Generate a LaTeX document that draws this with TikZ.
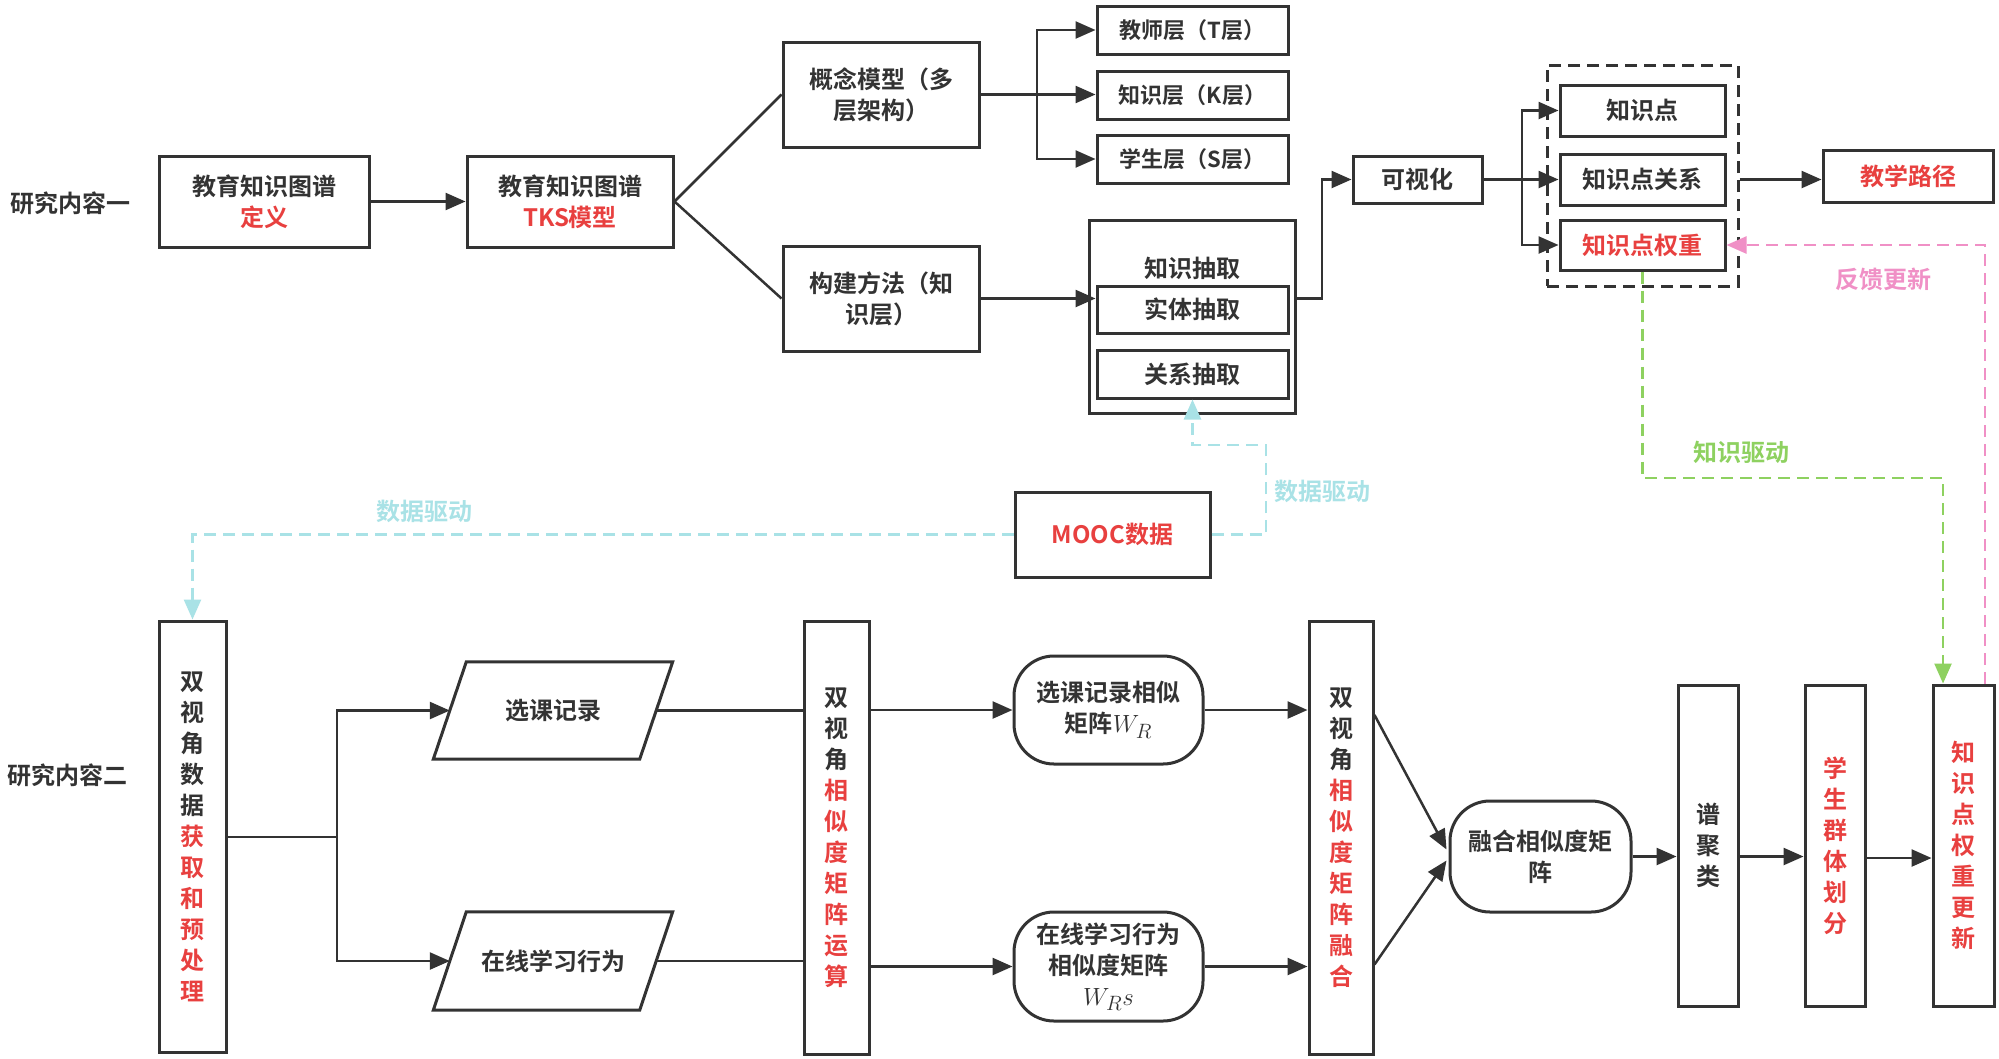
\documentclass[tikz,border=0pt]{standalone}
\usepackage{fontspec}
\setmainfont{Noto Sans CJK SC}[BoldFont={Noto Sans CJK SC Bold}]
\usetikzlibrary{arrows.meta,calc}
\definecolor{lc}{HTML}{333333}
\definecolor{rd}{HTML}{E8403F}
\definecolor{cy}{HTML}{A9E2E6}
\definecolor{gr}{HTML}{8ED160}
\definecolor{pk}{HTML}{F090C6}
\newcommand\redt[1]{\textcolor{rd}{#1}}
\begin{document}
\begin{tikzpicture}[x=1pt,y=-1pt,
  box/.style={draw=lc,line width=3pt,fill=white,text=lc,align=center,inner sep=0pt,font=\bfseries\fontsize{24}{31}\selectfont},
  lbox/.style={box,font=\bfseries\fontsize{22}{26}\selectfont},
  rbox/.style={box,rounded corners=40pt},
  ptext/.style={text=lc,align=center,inner sep=0pt,font=\bfseries\fontsize{24}{31}\selectfont},
  lab/.style={align=center,inner sep=0pt,font=\bfseries\fontsize{24}{31}\selectfont},
  conn/.style={draw=lc,line width=2.5pt},
  arr/.style={conn,-{Triangle[length=20pt,width=17pt]}},
  dsh/.style={line width=2.5pt,dash pattern=on 12pt off 7pt},
  cyl/.style={dsh,draw=cy,-{Triangle[length=20pt,width=17pt,fill=cy]}},
  grl/.style={dsh,draw=gr,-{Triangle[length=20pt,width=17pt,fill=gr]}},
  pkl/.style={dsh,draw=pk,-{Triangle[length=20pt,width=17pt,fill=pk]}}
]
\useasboundingbox[fill=white] (0,0) rectangle (1999,1058);

% side labels
\node[lab,text=lc] (lab1) at (70,203) {研究内容一};
\node[lab,text=lc] (lab2) at (67,775) {研究内容二};

% top row
\node[box,minimum width=210pt,minimum height=91pt] (A) at (264,201.5) {教育知识图谱\\\redt{定义}};
\node[box,minimum width=206pt,minimum height=91pt] (B) at (570,201.5) {教育知识图谱\\\redt{TKS模型}};
\node[box,minimum width=196pt,minimum height=105pt] (C) at (881,94.5) {概念模型（多\\层架构）};
\node[box,minimum width=196pt,minimum height=105pt] (D) at (881,298.5) {构建方法（知\\识层）};
\node[lbox,minimum width=191pt,minimum height=48pt] (T) at (1192.5,30) {教师层（T层）};
\node[lbox,minimum width=191pt,minimum height=48pt] (K) at (1192.5,95) {知识层（K层）};
\node[lbox,minimum width=191pt,minimum height=48pt] (S) at (1192.5,159) {学生层（S层）};

\node[box,minimum width=206pt,minimum height=193pt] (E) at (1192,316.5) {};
\node[ptext] (Elab) at (1192,268) {知识抽取};
\node[box,minimum width=191pt,minimum height=47pt] (ent) at (1192.5,309.5) {实体抽取};
\node[box,minimum width=191pt,minimum height=48pt] (rel) at (1192.5,374) {关系抽取};

\node[box,minimum width=129pt,minimum height=47pt] (vis) at (1417.5,179.5) {可视化};
\node[draw=lc,line width=3pt,dash pattern=on 12pt off 7pt,minimum width=191pt,minimum height=221pt,inner sep=0pt] (dbox) at (1642.5,175.5) {};
\node[box,minimum width=165pt,minimum height=51pt] (kp) at (1642.5,110.5) {知识点};
\node[box,minimum width=165pt,minimum height=51pt] (kr) at (1642.5,179.5) {知识点关系};
\node[box,minimum width=165pt,minimum height=50pt] (kw) at (1642.5,245) {\redt{知识点权重}};
\node[box,minimum width=170pt,minimum height=52pt] (path) at (1908,176) {\redt{教学路径}};

\node[box,minimum width=195pt,minimum height=85pt] (MOOC) at (1112.5,534.5) {\redt{MOOC数据}};

% bottom row
\node[box,minimum width=67pt,minimum height=431pt] (P1) at (192.5,836.5) {双\\视\\角\\数\\据\\\redt{获}\\\redt{取}\\\redt{和}\\\redt{预}\\\redt{处}\\\redt{理}};
\node[ptext,minimum width=206pt,minimum height=97pt] (sel) at (553,710.5) {选课记录};
\node[ptext,minimum width=206pt,minimum height=98pt] (onl) at (553,961) {在线学习行为};
\draw[lc,line width=3pt,line join=miter] ($(sel.north west)+(16.5,0)$) -- ($(sel.north east)+(16.5,0)$) -- ($(sel.south east)+(-16.5,0)$) -- ($(sel.south west)+(-16.5,0)$) -- cycle;
\draw[lc,line width=3pt,line join=miter] ($(onl.north west)+(16.5,0)$) -- ($(onl.north east)+(16.5,0)$) -- ($(onl.south east)+(-16.5,0)$) -- ($(onl.south west)+(-16.5,0)$) -- cycle;

\node[box,minimum width=65pt,minimum height=433pt] (M1) at (836.5,838) {双\\视\\角\\\redt{相}\\\redt{似}\\\redt{度}\\\redt{矩}\\\redt{阵}\\\redt{运}\\\redt{算}};
\node[rbox,minimum width=189pt,minimum height=108pt] (R1) at (1108.5,710) {选课记录相似\\矩阵{\fontsize{30}{31}\selectfont$W_R$}};
\node[rbox,minimum width=189pt,minimum height=109pt] (R2) at (1108.5,966.5) {在线学习行为\\相似度矩阵\\{\fontsize{30}{31}\selectfont$W_Rs$}};
\node[box,minimum width=64pt,minimum height=433pt] (M2) at (1341,838) {双\\视\\角\\\redt{相}\\\redt{似}\\\redt{度}\\\redt{矩}\\\redt{阵}\\\redt{融}\\\redt{合}};
\node[rbox,minimum width=181pt,minimum height=111pt] (F) at (1540.5,856.5) {融合相似度矩\\阵};
\node[box,minimum width=60pt,minimum height=321pt] (SC) at (1708,845.5) {谱\\聚\\类};
\node[box,minimum width=60pt,minimum height=321pt] (SG) at (1835,845.5) {\redt{学}\\\redt{生}\\\redt{群}\\\redt{体}\\\redt{划}\\\redt{分}};
\node[box,minimum width=61pt,minimum height=321pt] (KU) at (1963.5,845.5) {\redt{知}\\\redt{识}\\\redt{点}\\\redt{权}\\\redt{重}\\\redt{更}\\\redt{新}};

% coordinates
\coordinate (b1) at (1037,94.5);
\coordinate (e1) at (1322,298.5);
\coordinate (v1) at (1522,179.5);
\coordinate (j1) at (337,837);
\coordinate (c1) at (1266,445);
\coordinate (g1) at (1943,478);
\coordinate (p1) at (1985,245);

% top connectors
\draw[arr] (A.east) -- (B.west);
\draw[conn] (B.east) -- (C.west);
\draw[conn] (B.east) -- (D.west);
\draw[conn] (C.east) -- (b1);
\draw[arr] (b1) |- (T.west);
\draw[arr] (b1) -- (b1 -| K.west);
\draw[arr] (b1) |- (S.west);
\draw[arr] (D.east) -- (D.east -| ent.west);
\draw[arr] (D.east -| E.east) -- (e1) |- (vis.west);
\draw[conn] (vis.east) -- (v1);
\draw[arr] (v1) |- (kp.west);
\draw[arr] (v1) -- (kr.west);
\draw[arr] (v1) |- (kw.west);
\draw[arr] (dbox.east |- kr.east) -- (path.west |- kr.east);

% bottom connectors
\draw[conn] (P1.east |- j1) -- (j1);
\draw[arr] (j1) |- (sel.west);
\draw[arr] (j1) |- (onl.west);
\draw[conn] (sel.east) -- (sel.east -| M1.west);
\draw[conn] (onl.east) -- (onl.east -| M1.west);
\draw[arr] (M1.east |- R1.west) -- (R1.west);
\draw[arr] (M1.east |- R2.west) -- (R2.west);
\draw[arr] (R1.east) -- (R1.east -| M2.west);
\draw[arr] (R2.east) -- (R2.east -| M2.west);
\draw[arr] ($(M2.east |- R1.east)+(0,5)$) -- ($(F.west)+(-2,-7)$);
\draw[arr] ($(M2.east |- R2.east)+(0,-2)$) -- ($(F.west)+(-2,4)$);
\draw[arr] (F.east) -- (F.east -| SC.west);
\draw[arr] (SC.east |- F.east) -- (SG.west |- F.east);
\draw[arr] ($(SG.east |- F.east)+(0,1.5)$) -- ($(KU.west |- F.east)+(0,1.5)$);

% dashed feedback lines
\draw[cyl] (MOOC.west) -| (P1.north);
\draw[cyl] (MOOC.east) -| (c1) -| (rel.south);
\draw[grl] (kw.south) |- (g1) -- (g1 |- KU.north);
\draw[pkl] (p1 |- KU.north) -- (p1) -- (kw.east);

% dashed line labels
\node[lab,text=cy] (d1) at (424,511) {数据驱动};
\node[lab,text=cy] (d2) at (1322,491) {数据驱动};
\node[lab,text=gr] (d3) at (1741,452) {知识驱动};
\node[lab,text=pk] (d4) at (1883,279) {反馈更新};
\end{tikzpicture}
\end{document}
